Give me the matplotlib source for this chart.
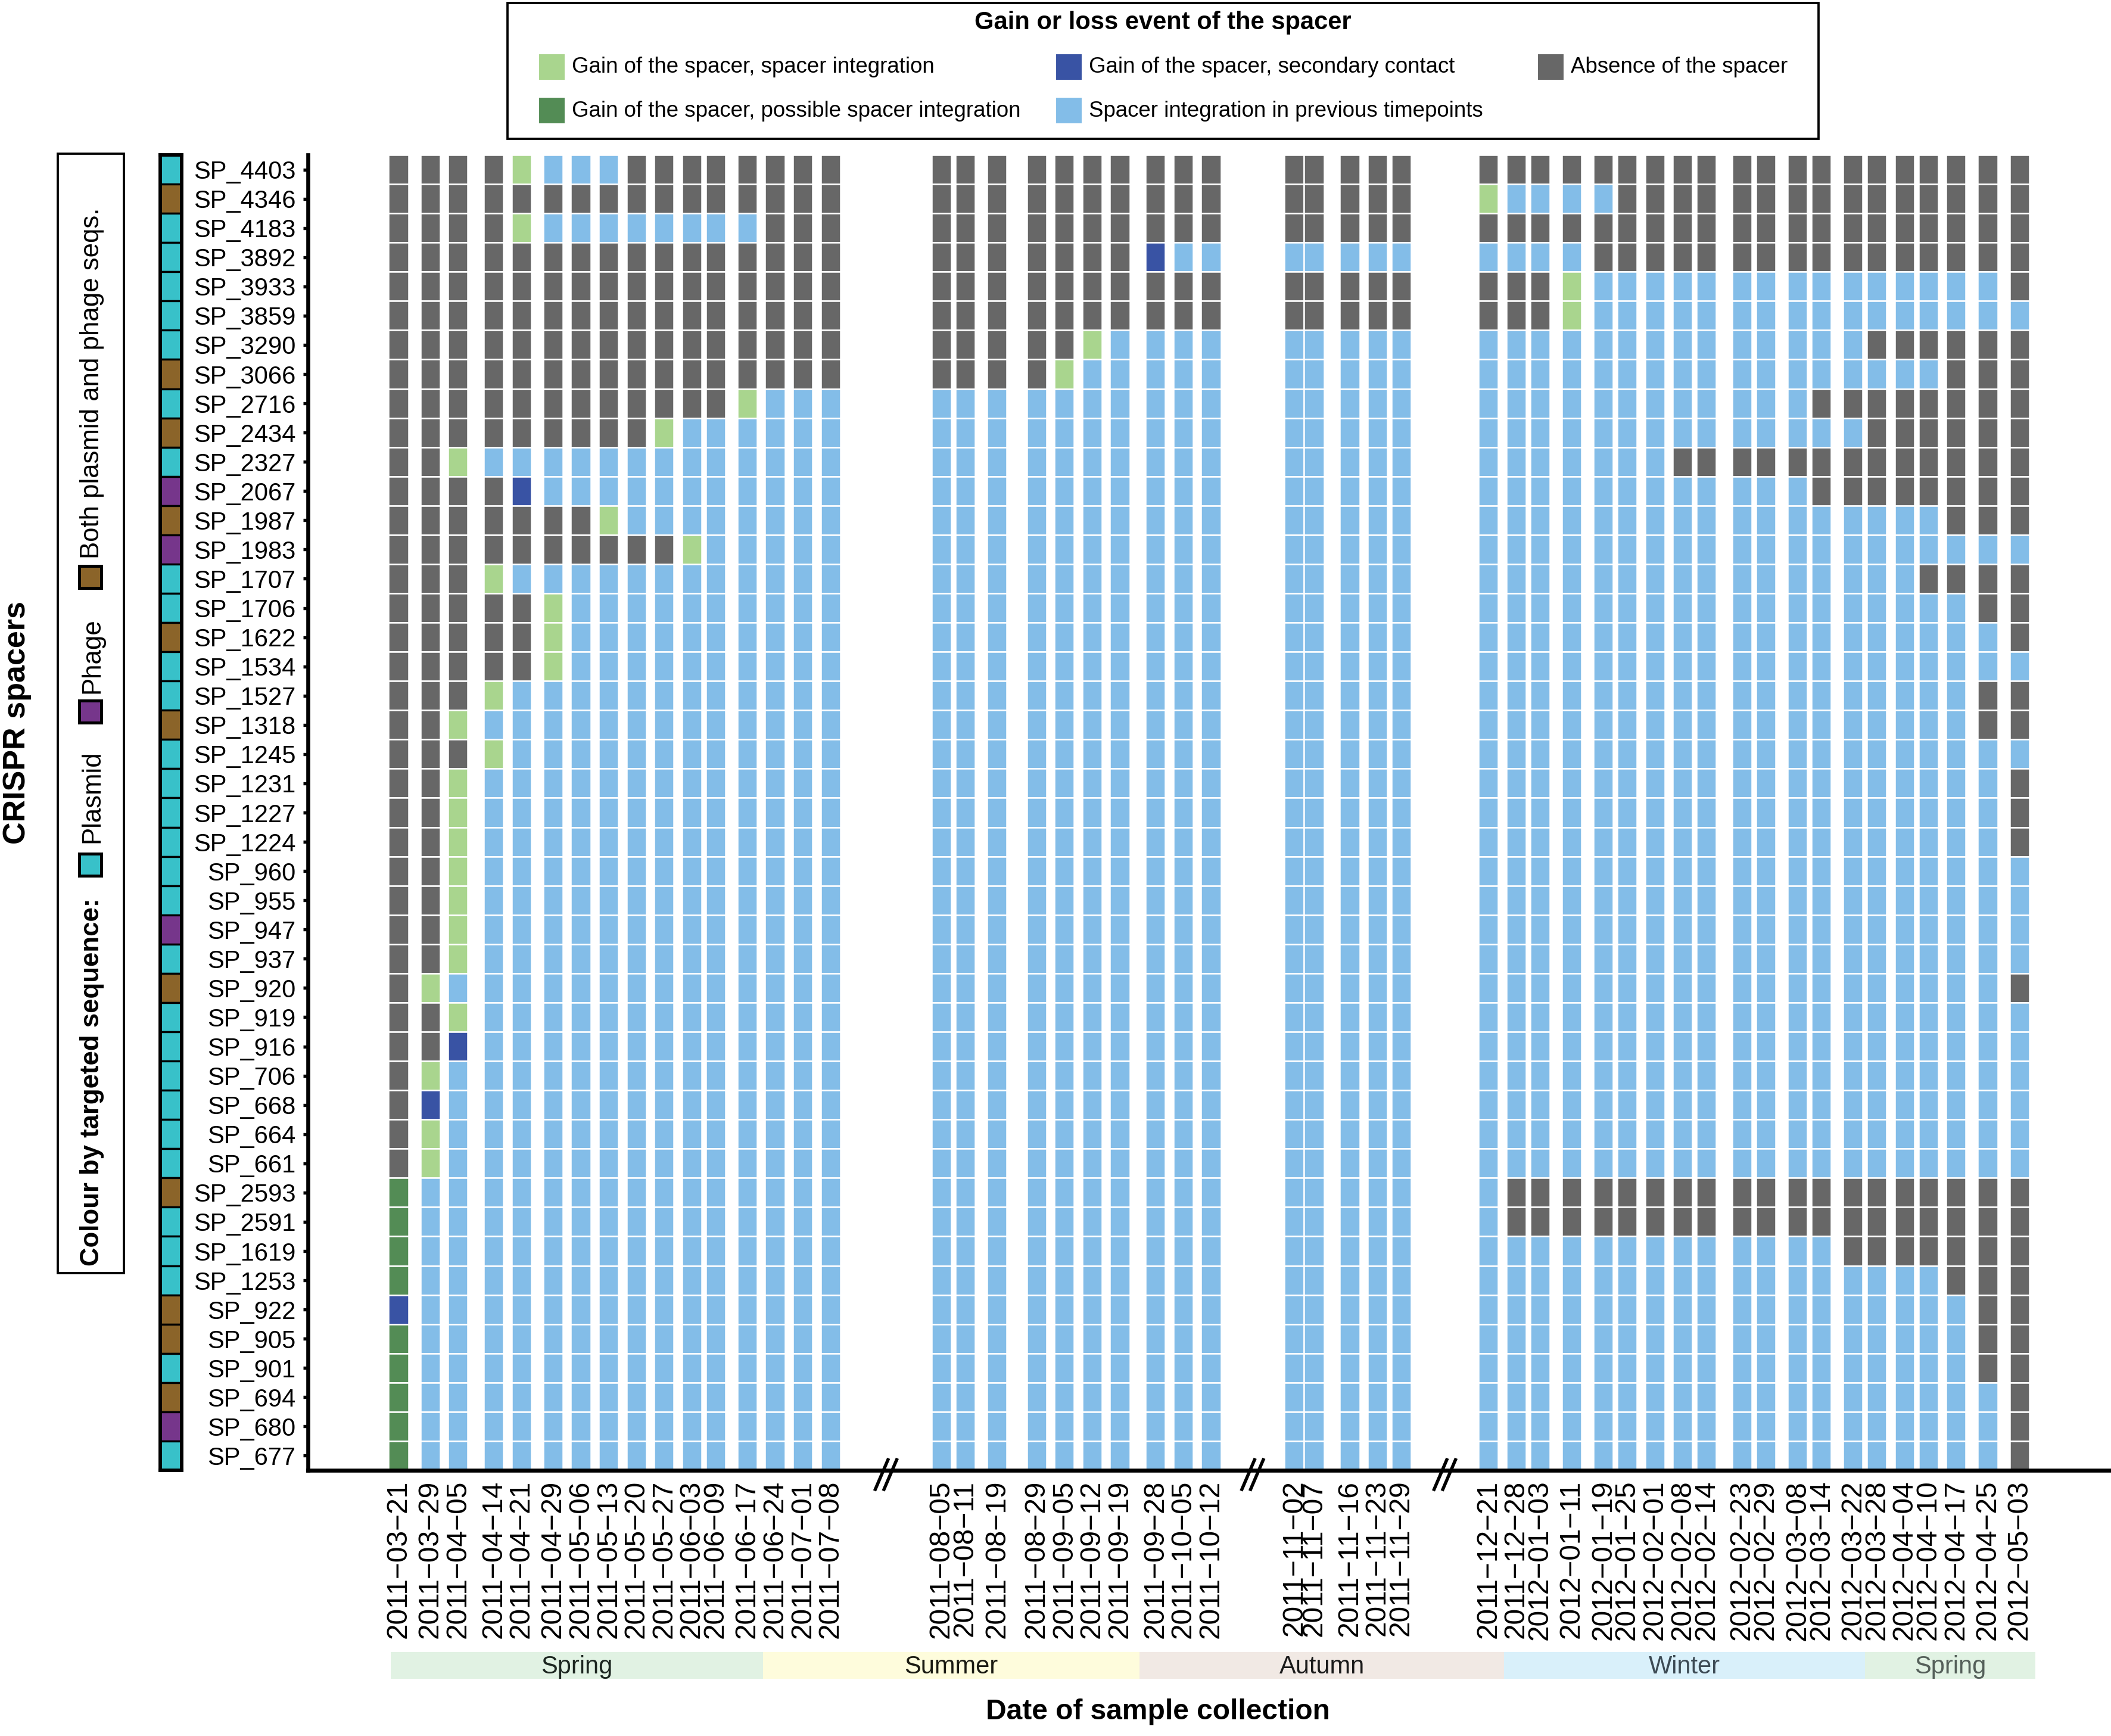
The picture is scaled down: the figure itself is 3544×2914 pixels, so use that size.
import datetime as dt

import matplotlib
matplotlib.use("Agg")
import matplotlib.pyplot as plt
import matplotlib.dates as mdates
from matplotlib.patches import Rectangle
import numpy as np

plt.rcParams['font.family'] = ['Liberation Sans', 'DejaVu Sans']

sample_dates = [
    "2011-03-21", "2011-03-29", "2011-04-05", "2011-04-14", "2011-04-21", "2011-04-29",
    "2011-05-06", "2011-05-13", "2011-05-20", "2011-05-27", "2011-06-03", "2011-06-09",
    "2011-06-17", "2011-06-24", "2011-07-01", "2011-07-08",
    "2011-08-05", "2011-08-11", "2011-08-19", "2011-08-29", "2011-09-05", "2011-09-12",
    "2011-09-19", "2011-09-28", "2011-10-05", "2011-10-12",
    "2011-11-02", "2011-11-07", "2011-11-16", "2011-11-23", "2011-11-29",
    "2011-12-21", "2011-12-28", "2012-01-03", "2012-01-11", "2012-01-19", "2012-01-25",
    "2012-02-01", "2012-02-08", "2012-02-14", "2012-02-23", "2012-02-29", "2012-03-08",
    "2012-03-14", "2012-03-22", "2012-03-28", "2012-04-04", "2012-04-10", "2012-04-17",
    "2012-04-25", "2012-05-03",
]

spacers = [
    "SP_4403", "SP_4346", "SP_4183", "SP_3892", "SP_3933", "SP_3859", "SP_3290", "SP_3066",
    "SP_2716", "SP_2434", "SP_2327", "SP_2067", "SP_1987", "SP_1983", "SP_1707", "SP_1706",
    "SP_1622", "SP_1534", "SP_1527", "SP_1318", "SP_1245", "SP_1231", "SP_1227", "SP_1224",
    "SP_960", "SP_955", "SP_947", "SP_937", "SP_920", "SP_919", "SP_916", "SP_706",
    "SP_668", "SP_664", "SP_661", "SP_2593", "SP_2591", "SP_1619", "SP_1253", "SP_922",
    "SP_905", "SP_901", "SP_694", "SP_680", "SP_677",
]

targets = [
    "Plasmid", "Both", "Plasmid", "Plasmid", "Plasmid", "Plasmid", "Plasmid", "Both",
    "Plasmid", "Both", "Plasmid", "Phage", "Both", "Phage", "Plasmid", "Plasmid",
    "Both", "Plasmid", "Plasmid", "Both", "Plasmid", "Plasmid", "Plasmid", "Plasmid",
    "Plasmid", "Plasmid", "Phage", "Plasmid", "Both", "Plasmid", "Plasmid", "Plasmid",
    "Plasmid", "Plasmid", "Plasmid", "Both", "Plasmid", "Plasmid", "Plasmid", "Both",
    "Both", "Plasmid", "Both", "Phage", "Plasmid",
]

# one string per spacer, one letter per sample (sampling periods separated by spaces)
# A absence, G gain/integration, P possible integration, S secondary contact, B integrated before
events = [
    "AAAAGBBBAAAAAAAA AAAAAAAAAA AAAAA AAAAAAAAAAAAAAAAAAAA",
    "AAAAAAAAAAAAAAAA AAAAAAAAAA AAAAA GBBBBAAAAAAAAAAAAAAA",
    "AAAAGBBBBBBBBAAA AAAAAAAAAA AAAAA AAAAAAAAAAAAAAAAAAAA",
    "AAAAAAAAAAAAAAAA AAAAAAASBB BBBBB BBBBAAAAAAAAAAAAAAAA",
    "AAAAAAAAAAAAAAAA AAAAAAAAAA AAAAA AAAGBBBBBBBBBBBBBBBA",
    "AAAAAAAAAAAAAAAA AAAAAAAAAA AAAAA AAAGBBBBBBBBBBBBBBBB",
    "AAAAAAAAAAAAAAAA AAAAAGBBBB BBBBB BBBBBBBBBBBBBBAAAAAA",
    "AAAAAAAAAAAAAAAA AAAAGBBBBB BBBBB BBBBBBBBBBBBBBBBBAAA",
    "AAAAAAAAAAAAGBBB BBBBBBBBBB BBBBB BBBBBBBBBBBBAAAAAAAA",
    "AAAAAAAAAGBBBBBB BBBBBBBBBB BBBBB BBBBBBBBBBBBBBAAAAAA",
    "AAGBBBBBBBBBBBBB BBBBBBBBBB BBBBB BBBBBBBAAAAAAAAAAAAA",
    "AAAASBBBBBBBBBBB BBBBBBBBBB BBBBB BBBBBBBBBBBBAAAAAAAA",
    "AAAAAAAGBBBBBBBB BBBBBBBBBB BBBBB BBBBBBBBBBBBBBBBBAAA",
    "AAAAAAAAAAGBBBBB BBBBBBBBBB BBBBB BBBBBBBBBBBBBBBBBBBB",
    "AAAGBBBBBBBBBBBB BBBBBBBBBB BBBBB BBBBBBBBBBBBBBBBAAAA",
    "AAAAAGBBBBBBBBBB BBBBBBBBBB BBBBB BBBBBBBBBBBBBBBBBBAA",
    "AAAAAGBBBBBBBBBB BBBBBBBBBB BBBBB BBBBBBBBBBBBBBBBBBBA",
    "AAAAAGBBBBBBBBBB BBBBBBBBBB BBBBB BBBBBBBBBBBBBBBBBBBB",
    "AAAGBBBBBBBBBBBB BBBBBBBBBB BBBBB BBBBBBBBBBBBBBBBBBAA",
    "AAGBBBBBBBBBBBBB BBBBBBBBBB BBBBB BBBBBBBBBBBBBBBBBBAA",
    "AAAGBBBBBBBBBBBB BBBBBBBBBB BBBBB BBBBBBBBBBBBBBBBBBBB",
    "AAGBBBBBBBBBBBBB BBBBBBBBBB BBBBB BBBBBBBBBBBBBBBBBBBA",
    "AAGBBBBBBBBBBBBB BBBBBBBBBB BBBBB BBBBBBBBBBBBBBBBBBBA",
    "AAGBBBBBBBBBBBBB BBBBBBBBBB BBBBB BBBBBBBBBBBBBBBBBBBA",
    "AAGBBBBBBBBBBBBB BBBBBBBBBB BBBBB BBBBBBBBBBBBBBBBBBBB",
    "AAGBBBBBBBBBBBBB BBBBBBBBBB BBBBB BBBBBBBBBBBBBBBBBBBB",
    "AAGBBBBBBBBBBBBB BBBBBBBBBB BBBBB BBBBBBBBBBBBBBBBBBBB",
    "AAGBBBBBBBBBBBBB BBBBBBBBBB BBBBB BBBBBBBBBBBBBBBBBBBB",
    "AGBBBBBBBBBBBBBB BBBBBBBBBB BBBBB BBBBBBBBBBBBBBBBBBBA",
    "AAGBBBBBBBBBBBBB BBBBBBBBBB BBBBB BBBBBBBBBBBBBBBBBBBB",
    "AASBBBBBBBBBBBBB BBBBBBBBBB BBBBB BBBBBBBBBBBBBBBBBBBB",
    "AGBBBBBBBBBBBBBB BBBBBBBBBB BBBBB BBBBBBBBBBBBBBBBBBBB",
    "ASBBBBBBBBBBBBBB BBBBBBBBBB BBBBB BBBBBBBBBBBBBBBBBBBB",
    "AGBBBBBBBBBBBBBB BBBBBBBBBB BBBBB BBBBBBBBBBBBBBBBBBBB",
    "AGBBBBBBBBBBBBBB BBBBBBBBBB BBBBB BBBBBBBBBBBBBBBBBBBB",
    "PBBBBBBBBBBBBBBB BBBBBBBBBB BBBBB BAAAAAAAAAAAAAAAAAAA",
    "PBBBBBBBBBBBBBBB BBBBBBBBBB BBBBB BAAAAAAAAAAAAAAAAAAA",
    "PBBBBBBBBBBBBBBB BBBBBBBBBB BBBBB BBBBBBBBBBBBBAAAAAAA",
    "PBBBBBBBBBBBBBBB BBBBBBBBBB BBBBB BBBBBBBBBBBBBBBBBAAA",
    "SBBBBBBBBBBBBBBB BBBBBBBBBB BBBBB BBBBBBBBBBBBBBBBBBAA",
    "PBBBBBBBBBBBBBBB BBBBBBBBBB BBBBB BBBBBBBBBBBBBBBBBBAA",
    "PBBBBBBBBBBBBBBB BBBBBBBBBB BBBBB BBBBBBBBBBBBBBBBBBAA",
    "PBBBBBBBBBBBBBBB BBBBBBBBBB BBBBB BBBBBBBBBBBBBBBBBBBA",
    "PBBBBBBBBBBBBBBB BBBBBBBBBB BBBBB BBBBBBBBBBBBBBBBBBBA",
    "PBBBBBBBBBBBBBBB BBBBBBBBBB BBBBB BBBBBBBBBBBBBBBBBBBA",
]

season_names = ["Spring", "Summer", "Autumn", "Winter", "Spring"]
season_edges = ["2011-03-19", "2011-06-21", "2011-09-24", "2011-12-25", "2012-03-25", "2012-05-07"]
season_fill = ["#e1f2e3", "#fefcdc", "#f1e9e4", "#d9f0fa", "#e1f2e3"]
season_text = ["#1c2620", "#1a1a12", "#1a1a1a", "#3d4b55", "#55605a"]

event_labels = {
    "G": "Gain of the spacer, spacer integration",
    "P": "Gain of the spacer, possible spacer integration",
    "S": "Gain of the spacer, secondary contact",
    "B": "Spacer integration in previous timepoints",
    "A": "Absence of the spacer",
}
event_colors = {"G": "#a9d58e", "P": "#538c55", "S": "#3953a4", "B": "#83bde8", "A": "#676767"}
target_labels = {"Plasmid": "Plasmid", "Phage": "Phage", "Both": "Both plasmid and phage seqs."}
target_colors = {"Plasmid": "#38c1c9", "Phage": "#76368b", "Both": "#8b6429"}

for row in events:
    assert [len(s) for s in row.split()] == [16, 10, 5, 20], row

W, H = 3544, 2914


def box(x0, y0, x1, y1):
    return [x0 / W, 1 - y1 / H, (x1 - x0) / W, (y1 - y0) / H]


def day(s):
    return mdates.date2num(dt.datetime.strptime(s, "%Y-%m-%d"))


fig = plt.figure(figsize=(W / 300, H / 300), dpi=300)

x = np.array([day(d) for d in sample_dates])
n = len(spacers)
xlim = (x[0] - 22.85, x[0] + 432.1)

ax = fig.add_axes(box(517, 260, 3544, 2468))
for i, row in enumerate(events):
    codes = row.replace(" ", "")
    ax.bar(x, 1.0, width=5, bottom=i - 0.5, color=[event_colors[c] for c in codes],
           edgecolor="white", linewidth=0.6)
ax.set_xlim(*xlim)
ax.set_ylim(n - 0.5, -0.5)
ax.set_xticks(x, labels=[d.replace("-", "\u2212") for d in sample_dates], rotation=90, fontsize=11.5)
ax.tick_params(axis="x", length=0, pad=4)
ax.set_yticks(range(n), labels=spacers, fontsize=10)
ax.tick_params(axis="y", length=2, width=1.3, pad=3)
for side in ("top", "right"):
    ax.spines[side].set_visible(False)
for side in ("left", "bottom"):
    ax.spines[side].set_linewidth(1.6)

# axis breaks between sampling periods
trans = ax.get_xaxis_transform()
gaps = np.diff(x)
for k in np.where(gaps > 20)[0]:
    xm = (x[k] + x[k + 1]) / 2
    for dx in (-1.1, 1.1):
        ax.plot([xm + dx - 1.6, xm + dx + 1.6], [-0.0145, 0.008], transform=trans,
                color="black", lw=1.3, clip_on=False)

# targeted sequence colour strip
cax = fig.add_axes(box(269, 260, 305, 2468))
cax.barh(range(n), 1, height=1, left=0, color=[target_colors[t] for t in targets],
         edgecolor="black", linewidth=0.8)
cax.set_xlim(0, 1)
cax.set_ylim(n - 0.5, -0.5)
cax.set_xticks([])
cax.set_yticks([])
for s in cax.spines.values():
    s.set_linewidth(1.4)

# season band
sax = fig.add_axes(box(517, 2773, 3544, 2818))
sax.set_xlim(*xlim)
sax.set_ylim(0, 1)
sax.axis("off")
for k, name in enumerate(season_names):
    e0, e1 = day(season_edges[k]), day(season_edges[k + 1])
    sax.axvspan(e0, e1, color=season_fill[k], lw=0)
    sax.text((e0 + e1) / 2, 0.45, name, ha="center", va="center", fontsize=10, color=season_text[k])

fig.text(1944 / W, 1 - 2873 / H, "Date of sample collection", ha="center", va="center",
         fontsize=11.5, fontweight="bold")
fig.text(29 / W, 1 - 1213 / H, "CRISPR spacers", rotation=90, ha="center", va="center",
         fontsize=12.5, fontweight="bold")

# top legend
fig.patches.append(Rectangle((852 / W, 1 - 233 / H), (3053 - 852) / W, (233 - 5) / H,
                             transform=fig.transFigure, fill=False, edgecolor="black", linewidth=0.9))
fig.text(1952 / W, 1 - 38 / H, "Gain or loss event of the spacer", ha="center", va="center",
         fontsize=10, fontweight="bold")
col_x = [904, 1772, 2581]
row_y = [113, 186]
for k, code in enumerate(["G", "P", "S", "B", "A"]):
    kx, ky = col_x[k // 2], row_y[k % 2]
    fig.patches.append(Rectangle((kx / W, 1 - (ky + 22) / H), 45 / W, 45 / H, transform=fig.transFigure,
                                 facecolor=event_colors[code], edgecolor="white", linewidth=0.5))
    fig.text((kx + 56) / W, 1 - ky / H, event_labels[code], ha="left", va="center", fontsize=8.8)

# left legend for targeted sequence
fig.patches.append(Rectangle((97 / W, 1 - 2137 / H), (208 - 97) / W, (2137 - 258) / H,
                             transform=fig.transFigure, fill=False, edgecolor="black", linewidth=0.9))
fig.text(155 / W, 1 - 2125 / H, "Colour by targeted sequence:", rotation=90, ha="center",
         va="bottom", fontsize=10.5, fontweight="bold")
key_y = {"Plasmid": 1433, "Phage": 1176, "Both": 950}
text_y = {"Plasmid": 1415, "Phage": 1164, "Both": 938}
for t in ["Plasmid", "Phage", "Both"]:
    fig.patches.append(Rectangle((133 / W, 1 - (key_y[t] + 37) / H), 37 / W, 37 / H,
                                 transform=fig.transFigure, facecolor=target_colors[t],
                                 edgecolor="black", linewidth=1.2))
    fig.text(155 / W, 1 - text_y[t] / H, target_labels[t], rotation=90, ha="center",
             va="bottom", fontsize=10.5)

fig.savefig("out.png", dpi=300, facecolor="white")
